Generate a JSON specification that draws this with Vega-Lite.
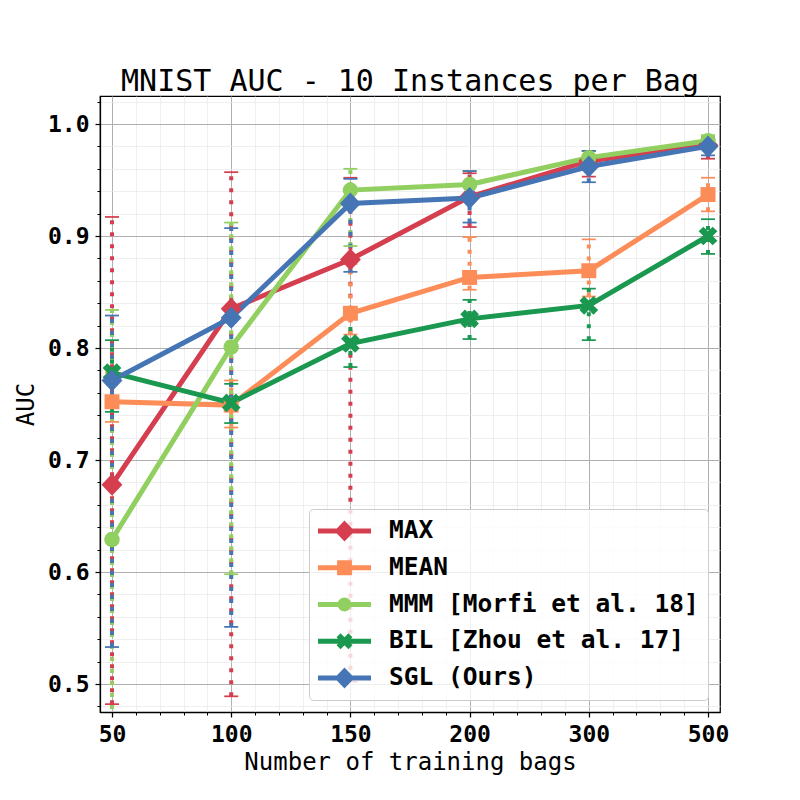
{
  "$schema": "https://vega.github.io/schema/vega-lite/v6.json",
  "width": 620,
  "height": 616,
  "autosize": {"type": "none"},
  "padding": {"left": 100, "top": 96, "right": 80, "bottom": 88},
  "background": "white",
  "title": {"text": "MNIST AUC - 10 Instances per Bag", "font": "DejaVu Sans Mono", "fontSize": 30, "fontWeight": "normal", "color": "#000000", "anchor": "middle", "frame": "group", "baseline": "alphabetic", "offset": -30},
  "data": {"values": [
    {"bags": 50, "series": "MAX", "auc": 0.678, "lo": 0.482, "hi": 0.917},
    {"bags": 100, "series": "MAX", "auc": 0.835, "lo": 0.489, "hi": 0.957},
    {"bags": 150, "series": "MAX", "auc": 0.879, "lo": 0.502, "hi": 0.952},
    {"bags": 200, "series": "MAX", "auc": 0.935, "lo": 0.908, "hi": 0.956},
    {"bags": 300, "series": "MAX", "auc": 0.967, "lo": 0.953, "hi": 0.976},
    {"bags": 500, "series": "MAX", "auc": 0.981, "lo": 0.969, "hi": 0.988},
    {"bags": 50, "series": "MEAN", "auc": 0.752, "lo": 0.734, "hi": 0.778},
    {"bags": 100, "series": "MEAN", "auc": 0.749, "lo": 0.729, "hi": 0.771},
    {"bags": 150, "series": "MEAN", "auc": 0.831, "lo": 0.812, "hi": 0.875},
    {"bags": 200, "series": "MEAN", "auc": 0.863, "lo": 0.852, "hi": 0.899},
    {"bags": 300, "series": "MEAN", "auc": 0.869, "lo": 0.846, "hi": 0.897},
    {"bags": 500, "series": "MEAN", "auc": 0.937, "lo": 0.922, "hi": 0.952},
    {"bags": 50, "series": "MMM [Morfi et al. 18]", "auc": 0.629, "lo": 0.424, "hi": 0.834},
    {"bags": 100, "series": "MMM [Morfi et al. 18]", "auc": 0.801, "lo": 0.598, "hi": 0.912},
    {"bags": 150, "series": "MMM [Morfi et al. 18]", "auc": 0.941, "lo": 0.891, "hi": 0.96},
    {"bags": 200, "series": "MMM [Morfi et al. 18]", "auc": 0.946, "lo": 0.934, "hi": 0.958},
    {"bags": 300, "series": "MMM [Morfi et al. 18]", "auc": 0.97, "lo": 0.965, "hi": 0.976},
    {"bags": 500, "series": "MMM [Morfi et al. 18]", "auc": 0.985, "lo": 0.98, "hi": 0.99},
    {"bags": 50, "series": "BIL [Zhou et al. 17]", "auc": 0.778, "lo": 0.743, "hi": 0.807},
    {"bags": 100, "series": "BIL [Zhou et al. 17]", "auc": 0.751, "lo": 0.733, "hi": 0.768},
    {"bags": 150, "series": "BIL [Zhou et al. 17]", "auc": 0.804, "lo": 0.783, "hi": 0.828},
    {"bags": 200, "series": "BIL [Zhou et al. 17]", "auc": 0.826, "lo": 0.808, "hi": 0.843},
    {"bags": 300, "series": "BIL [Zhou et al. 17]", "auc": 0.838, "lo": 0.807, "hi": 0.853},
    {"bags": 500, "series": "BIL [Zhou et al. 17]", "auc": 0.9, "lo": 0.884, "hi": 0.915},
    {"bags": 50, "series": "SGL (Ours)", "auc": 0.771, "lo": 0.533, "hi": 0.829},
    {"bags": 100, "series": "SGL (Ours)", "auc": 0.827, "lo": 0.551, "hi": 0.907},
    {"bags": 150, "series": "SGL (Ours)", "auc": 0.929, "lo": 0.868, "hi": 0.951},
    {"bags": 200, "series": "SGL (Ours)", "auc": 0.934, "lo": 0.912, "hi": 0.958},
    {"bags": 300, "series": "SGL (Ours)", "auc": 0.962, "lo": 0.948, "hi": 0.976},
    {"bags": 500, "series": "SGL (Ours)", "auc": 0.98, "lo": 0.972, "hi": 0.988}
  ]},
  "encoding": {
    "x": {
      "field": "bags", "type": "quantitative", "title": "Number of training bags",
      "scale": {"type": "linear", "domain": [44.97, 50, 100, 150, 200, 300, 500, 520.13], "range": [0, 12, 131.2, 250.4, 369.6, 488.8, 608, 620], "zero": false, "nice": false},
      "axis": {
        "values": [50, 60, 70, 80, 90, 100, 110, 120, 130, 140, 150, 160, 170, 180, 190, 200, 220, 240, 260, 280, 300, 340, 380, 420, 460, 500],
        "format": "d",
        "labelExpr": "indexof([50,100,150,200,300,500], datum.value) >= 0 ? datum.label : ''",
        "tickSize": {"condition": {"test": "indexof([50,100,150,200,300,500], datum.value) >= 0", "value": 5}, "value": 3},
        "tickWidth": {"condition": {"test": "indexof([50,100,150,200,300,500], datum.value) >= 0", "value": 1.25}, "value": 1},
        "gridColor": {"condition": {"test": "indexof([50,100,150,200,300,500], datum.value) >= 0", "value": "#b0b0b0"}, "value": "#e8e8e8"},
        "gridWidth": {"condition": {"test": "indexof([50,100,150,200,300,500], datum.value) >= 0", "value": 1}, "value": 0.7},
        "labelPadding": 6,
        "titlePadding": 4,
        "labelFlush": false,
        "labelOverlap": false
      }
    },
    "y": {"field": "auc", "type": "quantitative", "title": "AUC",
      "scale": {"domain": [0.475, 1.025], "zero": false, "nice": false},
      "axis": {
        "values": [0.48, 0.5, 0.52, 0.54, 0.56, 0.58, 0.6, 0.62, 0.64, 0.66, 0.68, 0.7, 0.72, 0.74, 0.76, 0.78, 0.8, 0.82, 0.84, 0.86, 0.88, 0.9, 0.92, 0.94, 0.96, 0.98, 1, 1.02],
        "format": ".1f",
        "labelExpr": "indexof([0.5,0.6,0.7,0.8,0.9,1], datum.value) >= 0 ? datum.label : ''",
        "tickSize": {"condition": {"test": "indexof([0.5,0.6,0.7,0.8,0.9,1], datum.value) >= 0", "value": 5}, "value": 3},
        "tickWidth": {"condition": {"test": "indexof([0.5,0.6,0.7,0.8,0.9,1], datum.value) >= 0", "value": 1.25}, "value": 1},
        "gridColor": {"condition": {"test": "indexof([0.5,0.6,0.7,0.8,0.9,1], datum.value) >= 0", "value": "#b0b0b0"}, "value": "#e8e8e8"},
        "gridWidth": {"condition": {"test": "indexof([0.5,0.6,0.7,0.8,0.9,1], datum.value) >= 0", "value": 1}, "value": 0.7},
        "labelPadding": 6,
        "titlePadding": 9,
        "labelFlush": false,
        "labelOverlap": false
      }
    }
  },
  "layer": [
    {
      "mark": {"type": "rule", "strokeDash": [4, 8], "strokeWidth": 4, "strokeCap": "butt", "clip": true},
      "encoding": {
        "y": {"field": "lo", "type": "quantitative", "title": "AUC"},
        "y2": {"field": "hi"},
        "stroke": {"field": "series", "type": "nominal", "legend": null,
          "scale": {"range": ["#1a9850", "#d53e4f", "#fc8d59", "#91cf60", "#4575b4"]}}
      }
    },
    {
      "mark": {"type": "tick", "orient": "horizontal", "size": 14, "thickness": 1.75, "opacity": 1, "clip": true},
      "encoding": {
        "y": {"field": "lo", "type": "quantitative", "title": "AUC"},
        "fill": {"field": "series", "type": "nominal", "legend": null,
          "scale": {"range": ["#1a9850", "#d53e4f", "#fc8d59", "#91cf60", "#4575b4"]}}
      }
    },
    {
      "mark": {"type": "tick", "orient": "horizontal", "size": 14, "thickness": 1.75, "opacity": 1, "clip": true},
      "encoding": {
        "y": {"field": "hi", "type": "quantitative", "title": "AUC"},
        "fill": {"field": "series", "type": "nominal", "legend": null}
      }
    },
    {
      "mark": {"type": "line", "strokeWidth": 5, "opacity": 1},
      "encoding": {
        "stroke": {"field": "series", "type": "nominal", "legend": null}
      }
    },
    {
      "mark": {"type": "point", "filled": true, "opacity": 1, "size": 484, "strokeWidth": 0},
      "encoding": {
        "shape": {"field": "series", "type": "nominal", "legend": null,
          "scale": {"range": ["M-0.425,-0.85L0,-0.425L0.425,-0.85L0.85,-0.425L0.425,0L0.85,0.425L0.425,0.85L0,0.425L-0.425,0.85L-0.85,0.425L-0.425,0L-0.85,-0.425Z", "M0,-1L0.95,0L0,1L-0.95,0Z", "M-0.68,-0.68H0.68V0.68H-0.68Z", "M-0.7,0A0.7,0.7 0 1,1 0.7,0A0.7,0.7 0 1,1 -0.7,0Z", "M0,-1L0.95,0L0,1L-0.95,0Z"]}},
        "color": {"field": "series", "type": "nominal",
          "scale": {"domain": ["MAX", "MEAN", "MMM [Morfi et al. 18]", "BIL [Zhou et al. 17]", "SGL (Ours)"], "range": ["#d53e4f", "#fc8d59", "#91cf60", "#1a9850", "#4575b4"]},
          "legend": {
            "title": null, "orient": "bottom-right", "offset": 12,
            "labelFont": "DejaVu Sans Mono", "labelFontWeight": "bold", "labelFontSize": 24.5, "labelColor": "#000000", "labelLimit": 500, "labelOffset": 18,
            "symbolSize": 2809, "clipHeight": 26, "rowPadding": 10.75, "padding": 9,
            "fillColor": "rgba(255,255,255,0.8)", "strokeColor": "#cccccc", "cornerRadius": 4, "symbolStrokeWidth": 0, "symbolOpacity": 1,
            "encode": {"symbols": {"update": {
              "size": {"value": 2809},
              "shape": {"signal": "datum.value === 'MEAN' ? 'M-1,-0.09H1V0.09H-1Z M-0.28,-0.28H0.28V0.28H-0.28Z' : datum.value === 'MMM [Morfi et al. 18]' ? 'M-1,-0.09H1V0.09H-1Z M-0.26,0A0.26,0.26 0 1,1 0.26,0A0.26,0.26 0 1,1 -0.26,0Z' : datum.value === 'BIL [Zhou et al. 17]' ? 'M-1,-0.09H1V0.09H-1Z M-0.15,-0.3L0,-0.15L0.15,-0.3L0.3,-0.15L0.15,0L0.3,0.15L0.15,0.3L0,0.15L-0.15,0.3L-0.3,0.15L-0.15,0L-0.3,-0.15Z' : 'M-1,-0.09H1V0.09H-1Z M0,-0.4L0.38,0L0,0.4L-0.38,0Z'"}
            }}}
          }}
      }
    }
  ],
  "config": {
    "font": "DejaVu Sans Mono",
    "view": {"stroke": "#000000", "strokeWidth": 1.25},
    "axis": {
      "domainColor": "#000000", "domainWidth": 1.25, "tickColor": "#000000",
      "labelFont": "DejaVu Sans Mono", "labelFontWeight": "bold", "labelFontSize": 23, "labelColor": "#000000",
      "titleFont": "DejaVu Sans Mono", "titleFontWeight": "normal", "titleFontSize": 24, "titleColor": "#000000",
      "grid": true
    }
  }
}
